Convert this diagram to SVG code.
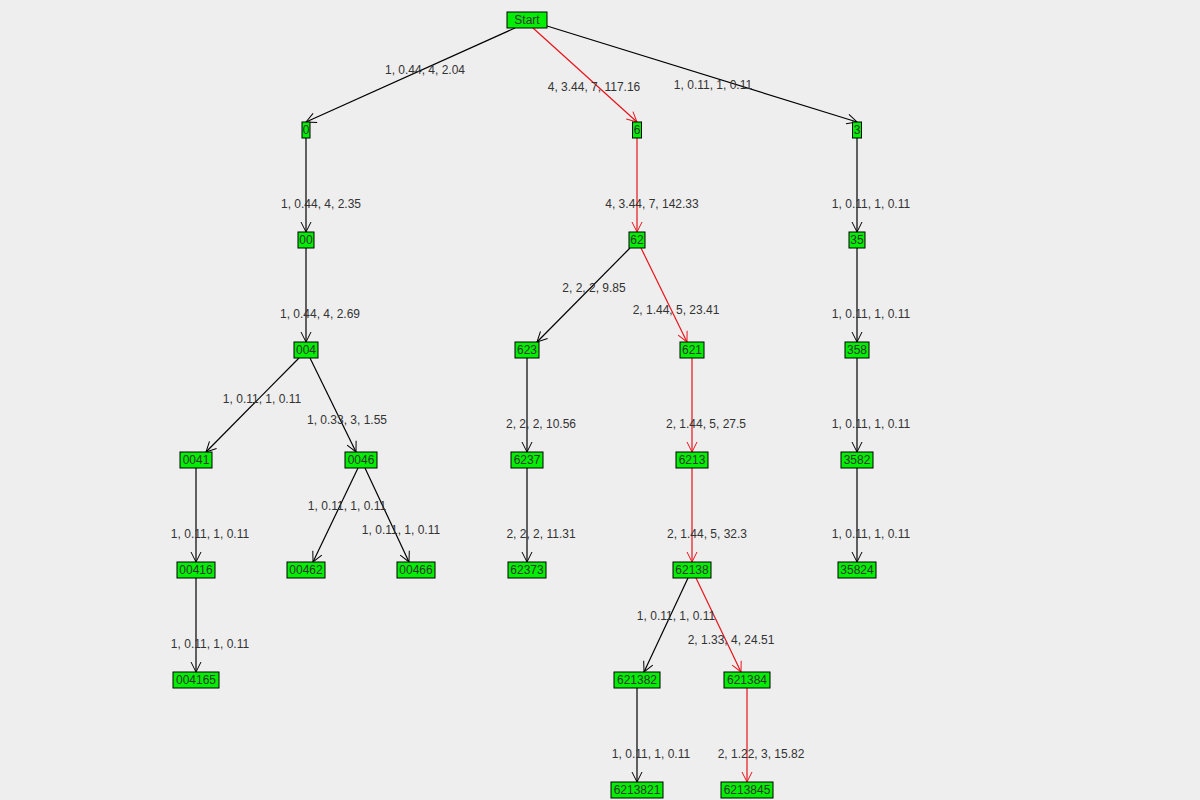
<svg xmlns="http://www.w3.org/2000/svg" width="1200" height="800" viewBox="0 0 1200 800">
<defs>
<marker id="ab" markerUnits="userSpaceOnUse" markerWidth="14" markerHeight="14" refX="0" refY="0" viewBox="-12 -7 14 14" orient="auto"><path d="M-10,-5 L0,0 L-10,5" fill="none" stroke="#000" stroke-width="1"/></marker>
<marker id="ar" markerUnits="userSpaceOnUse" markerWidth="14" markerHeight="14" refX="0" refY="0" viewBox="-12 -7 14 14" orient="auto"><path d="M-10,-5 L0,0 L-10,5" fill="none" stroke="#e8141a" stroke-width="1"/></marker>
<style>
.n rect{fill:#00ee00;stroke:#000;stroke-width:1}
.n text{font-family:"Liberation Sans",Arial,sans-serif;font-size:12px;fill:#333;text-anchor:middle}
.e line{stroke:#000;stroke-width:1.2;marker-end:url(#ab)}
.e line.r{stroke:#e8141a;marker-end:url(#ar)}
.l text{font-family:"Liberation Sans",Arial,sans-serif;font-size:12px;fill:#333;text-anchor:middle}
</style>
</defs>
<rect width="1200" height="800" fill="#eeeeee"/>
<g id="connectors" class="e">
<line x1="515" y1="28" x2="306" y2="122"/>
<line class="r" x1="533" y1="28" x2="637" y2="122"/>
<line x1="547" y1="26" x2="857" y2="122"/>
<line x1="306" y1="138" x2="306" y2="232"/>
<line class="r" x1="637" y1="138" x2="637" y2="232"/>
<line x1="857" y1="138" x2="857" y2="232"/>
<line x1="306" y1="248" x2="306" y2="342"/>
<line x1="630" y1="248" x2="537" y2="342"/>
<line class="r" x1="641" y1="248" x2="687" y2="342"/>
<line x1="857" y1="248" x2="857" y2="342"/>
<line x1="299" y1="358" x2="206" y2="452"/>
<line x1="310" y1="358" x2="356" y2="452"/>
<line x1="527" y1="358" x2="527" y2="452"/>
<line class="r" x1="692" y1="358" x2="692" y2="452"/>
<line x1="857" y1="358" x2="857" y2="452"/>
<line x1="196" y1="468" x2="196" y2="562"/>
<line x1="358" y1="468" x2="313" y2="562"/>
<line x1="365" y1="468" x2="409" y2="562"/>
<line x1="527" y1="468" x2="527" y2="562"/>
<line class="r" x1="692" y1="468" x2="692" y2="562"/>
<line x1="857" y1="468" x2="857" y2="562"/>
<line x1="196" y1="578" x2="196" y2="672"/>
<line x1="688" y1="578" x2="644" y2="672"/>
<line class="r" x1="696" y1="578" x2="741" y2="672"/>
<line x1="637" y1="688" x2="637" y2="782"/>
<line class="r" x1="747" y1="688" x2="747" y2="782"/>
</g>
<g id="labels" class="l">
<text x="425" y="74">1, 0.44, 4, 2.04</text>
<text x="594" y="91">4, 3.44, 7, 117.16</text>
<text x="713" y="89">1, 0.11, 1, 0.11</text>
<text x="321" y="208">1, 0.44, 4, 2.35</text>
<text x="652" y="208">4, 3.44, 7, 142.33</text>
<text x="871" y="208">1, 0.11, 1, 0.11</text>
<text x="320" y="318">1, 0.44, 4, 2.69</text>
<text x="594" y="292">2, 2, 2, 9.85</text>
<text x="676" y="314">2, 1.44, 5, 23.41</text>
<text x="871" y="318">1, 0.11, 1, 0.11</text>
<text x="262" y="403">1, 0.11, 1, 0.11</text>
<text x="347" y="424">1, 0.33, 3, 1.55</text>
<text x="541" y="428">2, 2, 2, 10.56</text>
<text x="706" y="428">2, 1.44, 5, 27.5</text>
<text x="871" y="428">1, 0.11, 1, 0.11</text>
<text x="210" y="538">1, 0.11, 1, 0.11</text>
<text x="347" y="510">1, 0.11, 1, 0.11</text>
<text x="401" y="534">1, 0.11, 1, 0.11</text>
<text x="541" y="538">2, 2, 2, 11.31</text>
<text x="707" y="538">2, 1.44, 5, 32.3</text>
<text x="871" y="538">1, 0.11, 1, 0.11</text>
<text x="210" y="648">1, 0.11, 1, 0.11</text>
<text x="676" y="620">1, 0.11, 1, 0.11</text>
<text x="731" y="644">2, 1.33, 4, 24.51</text>
<text x="651" y="758">1, 0.11, 1, 0.11</text>
<text x="761" y="758">2, 1.22, 3, 15.82</text>
</g>
<g id="nStart" class="n"><rect x="507" y="12" width="40" height="16"/><text x="527" y="24">Start</text></g>
<g id="n0" class="n"><rect x="302" y="122" width="8" height="16"/><text x="306" y="134">0</text></g>
<g id="n6" class="n"><rect x="632.5" y="122" width="9" height="16"/><text x="637" y="134">6</text></g>
<g id="n3" class="n"><rect x="852.5" y="122" width="9" height="16"/><text x="857" y="134">3</text></g>
<g id="n00" class="n"><rect x="298" y="232" width="16" height="16"/><text x="306" y="244">00</text></g>
<g id="n62" class="n"><rect x="629" y="232" width="16" height="16"/><text x="637" y="244">62</text></g>
<g id="n35" class="n"><rect x="849" y="232" width="16" height="16"/><text x="857" y="244">35</text></g>
<g id="n004" class="n"><rect x="294" y="342" width="24" height="16"/><text x="306" y="354">004</text></g>
<g id="n623" class="n"><rect x="515" y="342" width="24" height="16"/><text x="527" y="354">623</text></g>
<g id="n621" class="n"><rect x="680" y="342" width="24" height="16"/><text x="692" y="354">621</text></g>
<g id="n358" class="n"><rect x="845" y="342" width="24" height="16"/><text x="857" y="354">358</text></g>
<g id="n0041" class="n"><rect x="180" y="452" width="32" height="16"/><text x="196" y="464">0041</text></g>
<g id="n0046" class="n"><rect x="345" y="452" width="32" height="16"/><text x="361" y="464">0046</text></g>
<g id="n6237" class="n"><rect x="511" y="452" width="32" height="16"/><text x="527" y="464">6237</text></g>
<g id="n6213" class="n"><rect x="676" y="452" width="32" height="16"/><text x="692" y="464">6213</text></g>
<g id="n3582" class="n"><rect x="841" y="452" width="32" height="16"/><text x="857" y="464">3582</text></g>
<g id="n00416" class="n"><rect x="177" y="562" width="38" height="16"/><text x="196" y="574">00416</text></g>
<g id="n00462" class="n"><rect x="287" y="562" width="38" height="16"/><text x="306" y="574">00462</text></g>
<g id="n00466" class="n"><rect x="397" y="562" width="38" height="16"/><text x="416" y="574">00466</text></g>
<g id="n62373" class="n"><rect x="508" y="562" width="38" height="16"/><text x="527" y="574">62373</text></g>
<g id="n62138" class="n"><rect x="673" y="562" width="38" height="16"/><text x="692" y="574">62138</text></g>
<g id="n35824" class="n"><rect x="838" y="562" width="38" height="16"/><text x="857" y="574">35824</text></g>
<g id="n004165" class="n"><rect x="173" y="672" width="46" height="16"/><text x="196" y="684">004165</text></g>
<g id="n621382" class="n"><rect x="614" y="672" width="46" height="16"/><text x="637" y="684">621382</text></g>
<g id="n621384" class="n"><rect x="724" y="672" width="46" height="16"/><text x="747" y="684">621384</text></g>
<g id="n6213821" class="n"><rect x="611" y="782" width="52" height="16"/><text x="637" y="794">6213821</text></g>
<g id="n6213845" class="n"><rect x="721" y="782" width="52" height="16"/><text x="747" y="794">6213845</text></g>
</svg>
